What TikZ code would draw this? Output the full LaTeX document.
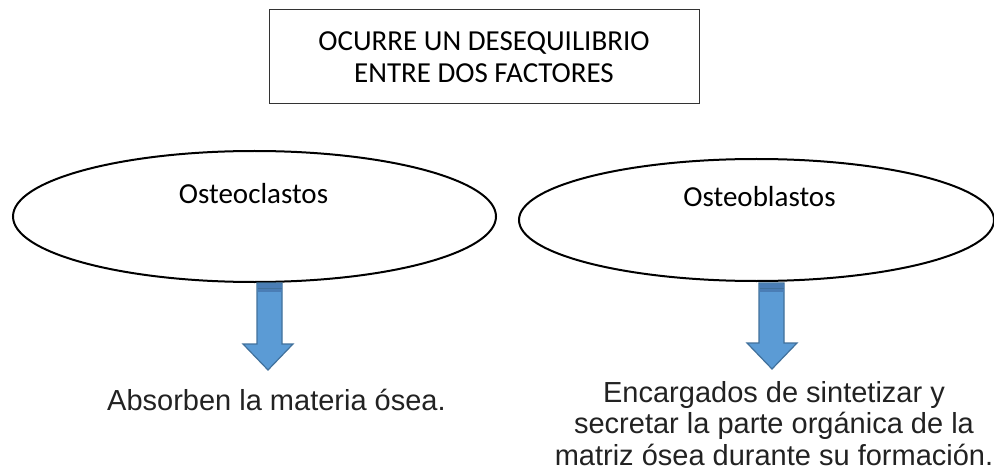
\documentclass[tikz,border=0pt]{standalone}
\usepackage{fontspec}
\usetikzlibrary{calc}
\setmainfont{Carlito}
\newfontfamily\arialfont{Liberation Sans}
\definecolor{arrfill}{HTML}{5B9BD5}
\definecolor{arrline}{HTML}{41719C}
\definecolor{arrband}{HTML}{4A7DB5}
\definecolor{txtgray}{HTML}{222222}
\begin{document}
\begin{tikzpicture}[x=1pt,y=-1pt,
  titlebox/.style={draw=black!80,line width=1pt,minimum width=430pt,minimum height=94pt,inner sep=0pt,align=center,font=\fontsize{29}{32}\selectfont},
  oval/.style={draw=black,line width=2pt},
  lbl/.style={anchor=base,font=\fontsize{29}{32}\selectfont,inner sep=0pt},
  result/.style={font=\arialfont\fontsize{29}{31.5}\selectfont,text=txtgray,inner sep=0pt},
  blockarrow/.style={fill=arrfill,draw=arrline,line width=1.2pt,line join=miter}
]
\useasboundingbox (0,0) rectangle (994,476);
\fill[white] (0,0) rectangle (994,476);

\node[titlebox] (title) at (484,57) {OCURRE UN DESEQUILIBRIO\\ENTRE DOS FACTORES};

\draw[oval] (254.5,216.5) ellipse [x radius=241.5, y radius=65.5];
\draw[oval] (756.5,220) ellipse [x radius=237.5, y radius=61];

\node[lbl] (clastos) at (253.5,204) {Osteoclastos};
\node[lbl] (blastos) at (759.5,207) {Osteoblastos};

% left block arrow
\coordinate (la) at (269.5,283);
\draw[blockarrow] ($(la)+(-12.5,0)$) -- ++(25,0) -- ++(0,61) -- ++(11,0) -- (268,370) -- (243,344) -- ++(14,0) -- cycle;
\fill[arrband] ($(la)+(-12,0.6)$) rectangle ($(la)+(12,9)$);
\draw[arrline,line width=0.8pt] ($(la)+(-12,5)$) -- ($(la)+(12,5)$);
% right block arrow
\coordinate (ra) at (771.5,283);
\draw[blockarrow] ($(ra)+(-12.5,0)$) -- ++(25,0) -- ++(0,60) -- ++(13,0) -- (772,369) -- (747,343) -- ++(12,0) -- cycle;
\fill[arrband] ($(ra)+(-12,0.6)$) rectangle ($(ra)+(12,9)$);
\draw[arrline,line width=0.8pt] ($(ra)+(-12,5)$) -- ($(ra)+(12,5)$);

\node[result,anchor=base west] (absorben) at (107,410) {Absorben la materia ósea.};
\node[result,anchor=base,align=center] (encargados) at (774,465) {Encargados de sintetizar y\\secretar la parte orgánica de la\\matriz ósea durante su formación.};
\end{tikzpicture}
\end{document}
